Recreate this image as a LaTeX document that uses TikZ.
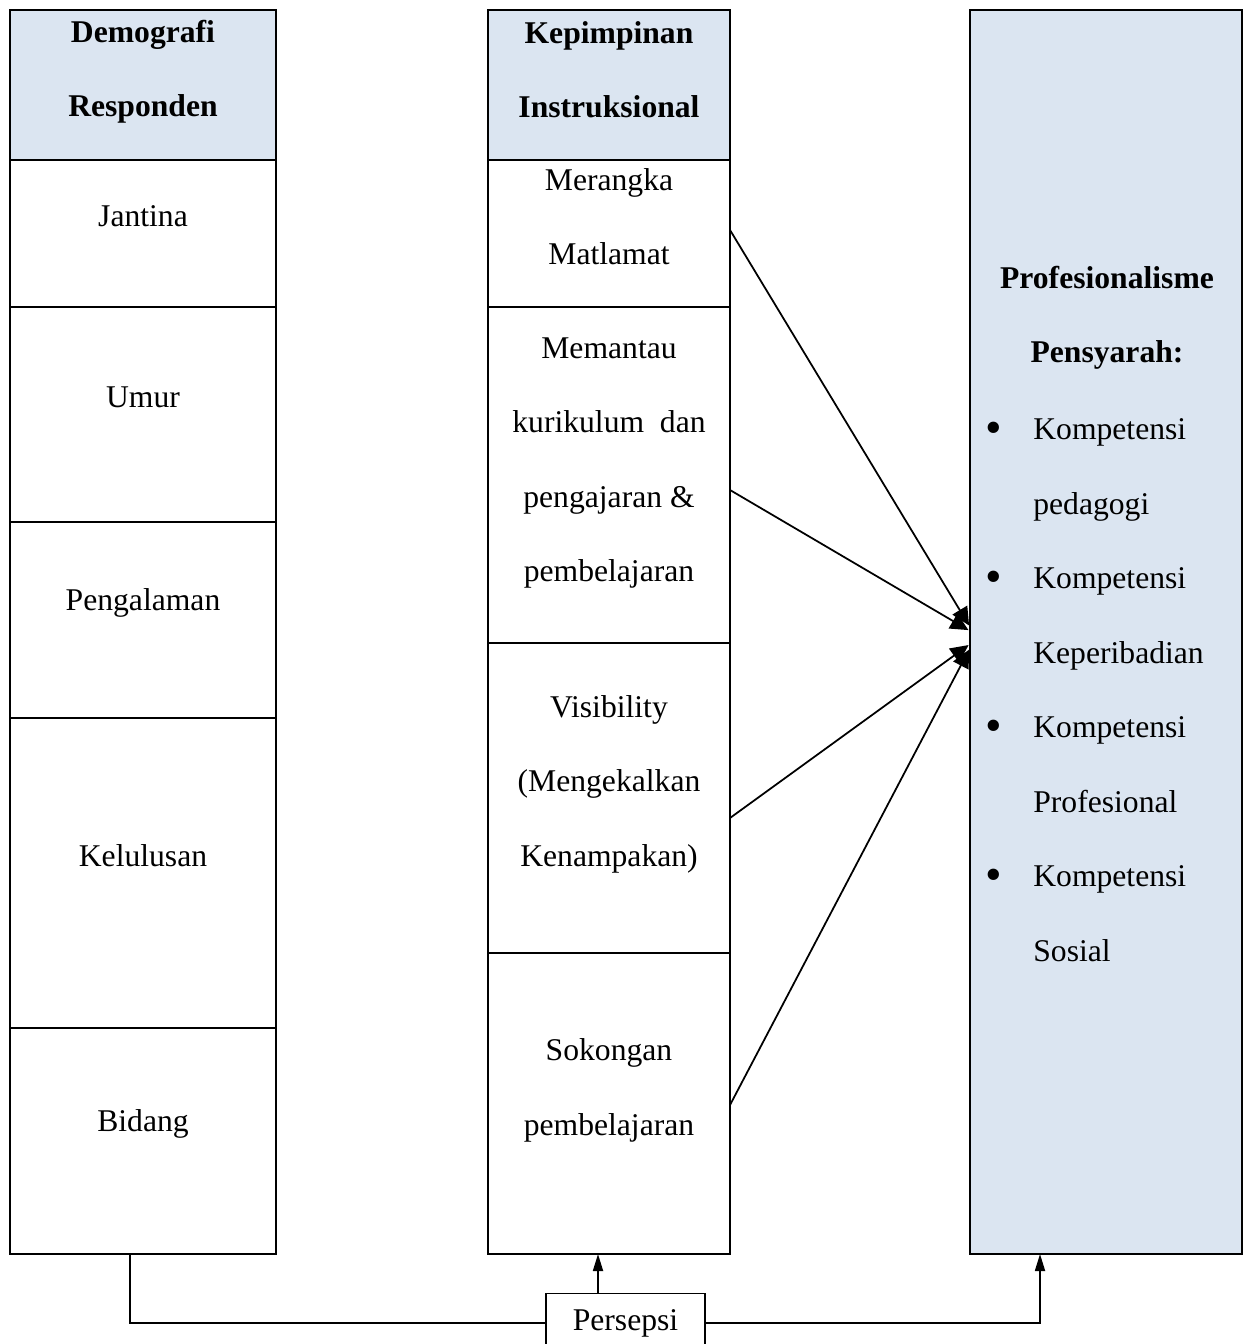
\documentclass[tikz,border=0pt]{standalone}
\usepackage{fontspec}
\setmainfont{Liberation Serif}
\usetikzlibrary{arrows.meta, positioning}
\definecolor{headblue}{RGB}{219,229,241}
\newcommand{\blt}{\makebox[0.96cm][l]{\raisebox{-0.12em}{\scalebox{1.5}{\textbullet}}}}

\begin{document}
\begin{tikzpicture}[
  cell/.style={draw, line width=1.1pt, inner sep=0pt, outer sep=0pt},
  lcell/.style={cell, minimum width=5.32cm},
  mcell/.style={cell, minimum width=4.84cm},
  head/.style={fill=headblue},
  txt/.style={align=center, inner sep=0pt, font=\fontsize{18pt}{42.4pt}\selectfont},
  bold/.style={txt, font=\fontsize{18pt}{42.4pt}\selectfont\bfseries},
  arrow/.style={-{Triangle[length=0.36cm, width=0.34cm]}, line width=1pt, shorten >=1pt},
  uparrow/.style={-{Triangle[length=0.34cm, width=0.2cm]}, line width=1pt},
  node distance=0pt
]
  \useasboundingbox (0,0) rectangle (24.86,-26.88);

  % demografi responden
  \node[lcell, head, minimum height=3cm] (dhead) at (2.86,-1.7) {};
  \node[lcell, minimum height=2.94cm, below=of dhead] (jantina) {};
  \node[lcell, minimum height=4.30cm, below=of jantina] (umur) {};
  \node[lcell, minimum height=3.92cm, below=of umur] (pengalaman) {};
  \node[lcell, minimum height=6.20cm, below=of pengalaman] (kelulusan) {};
  \node[lcell, minimum height=4.52cm, below=of kelulusan] (bidang) {};

  \node[bold] (tdhead) at ([yshift=0.27cm]dhead.center) {Demografi\\Responden};
  \node[txt] (tjantina) at ([yshift=0.34cm]jantina.center) {Jantina};
  \node[txt] (tumur) at ([yshift=0.34cm]umur.center) {Umur};
  \node[txt] (tpengalaman) at ([yshift=0.34cm]pengalaman.center) {Pengalaman};
  \node[txt] (tkelulusan) at ([yshift=0.34cm]kelulusan.center) {Kelulusan};
  \node[txt] (tbidang) at ([yshift=0.34cm]bidang.center) {Bidang};

  % kepimpinan instruksional
  \node[mcell, head, minimum height=3cm] (khead) at (12.18,-1.7) {};
  \node[mcell, minimum height=2.94cm, below=of khead] (merangka) {};
  \node[mcell, minimum height=6.72cm, below=of merangka] (memantau) {};
  \node[mcell, minimum height=6.20cm, below=of memantau] (visibility) {};
  \node[mcell, minimum height=6.02cm, below=of visibility] (sokongan) {};

  \node[bold] (tkhead) at ([yshift=0.31cm]khead.center) {Kepimpinan\\Instruksional};
  \node[txt] (tmerangka) at ([yshift=0.34cm]merangka.center) {Merangka\\Matlamat};
  \node[txt] (tmemantau) at ([yshift=0.24cm]memantau.center) {Memantau\\kurikulum~ dan\\pengajaran \&\\pembelajaran};
  \node[txt] (tvisibility) at ([yshift=0.28cm]visibility.center) {Visibility\\(Mengekalkan\\Kenampakan)};
  \node[txt] (tsokongan) at ([yshift=0.26cm]sokongan.center) {Sokongan\\pembelajaran};

  % profesionalisme pensyarah
  \node[cell, head, minimum width=5.44cm, minimum height=24.88cm] (prof) at (22.12,-12.64) {};
  \node[bold] (tprof) at (22.14,-6.36) {Profesionalisme\\Pensyarah:};
  \node[txt, align=left, anchor=west] (lprof) at (19.70,-13.80)
    {\blt Kompetensi\\\hspace{0.96cm}pedagogi\\
     \blt Kompetensi\\\hspace{0.96cm}Keperibadian\\
     \blt Kompetensi\\\hspace{0.96cm}Profesional\\
     \blt Kompetensi\\\hspace{0.96cm}Sosial};

  % persepsi
  \node[cell, txt, draw, minimum width=3.18cm, minimum height=1.18cm] (persepsi) at (12.51,-26.46) {Persepsi};

  \draw[arrow] ([yshift=0.07cm]merangka.east) -- ([yshift=0.10cm]prof.west);
  \draw[arrow] ([yshift=-0.30cm]memantau.east) -- ([yshift=0.02cm]prof.west);
  \draw[arrow] ([yshift=-0.40cm]visibility.east) -- ([yshift=-0.24cm]prof.west);
  \draw[arrow] ([yshift=-0.03cm]sokongan.east) -- ([yshift=-0.32cm]prof.west);

  \draw[line width=1pt] ([xshift=-0.26cm]bidang.south) |- (persepsi.west);
  \draw[uparrow] ([xshift=-0.55cm]persepsi.north) -- ([xshift=-0.55cm]persepsi.north |- sokongan.south);
  \draw[uparrow] (persepsi.east) -| ([xshift=-1.32cm]prof.south);
\end{tikzpicture}
\end{document}
